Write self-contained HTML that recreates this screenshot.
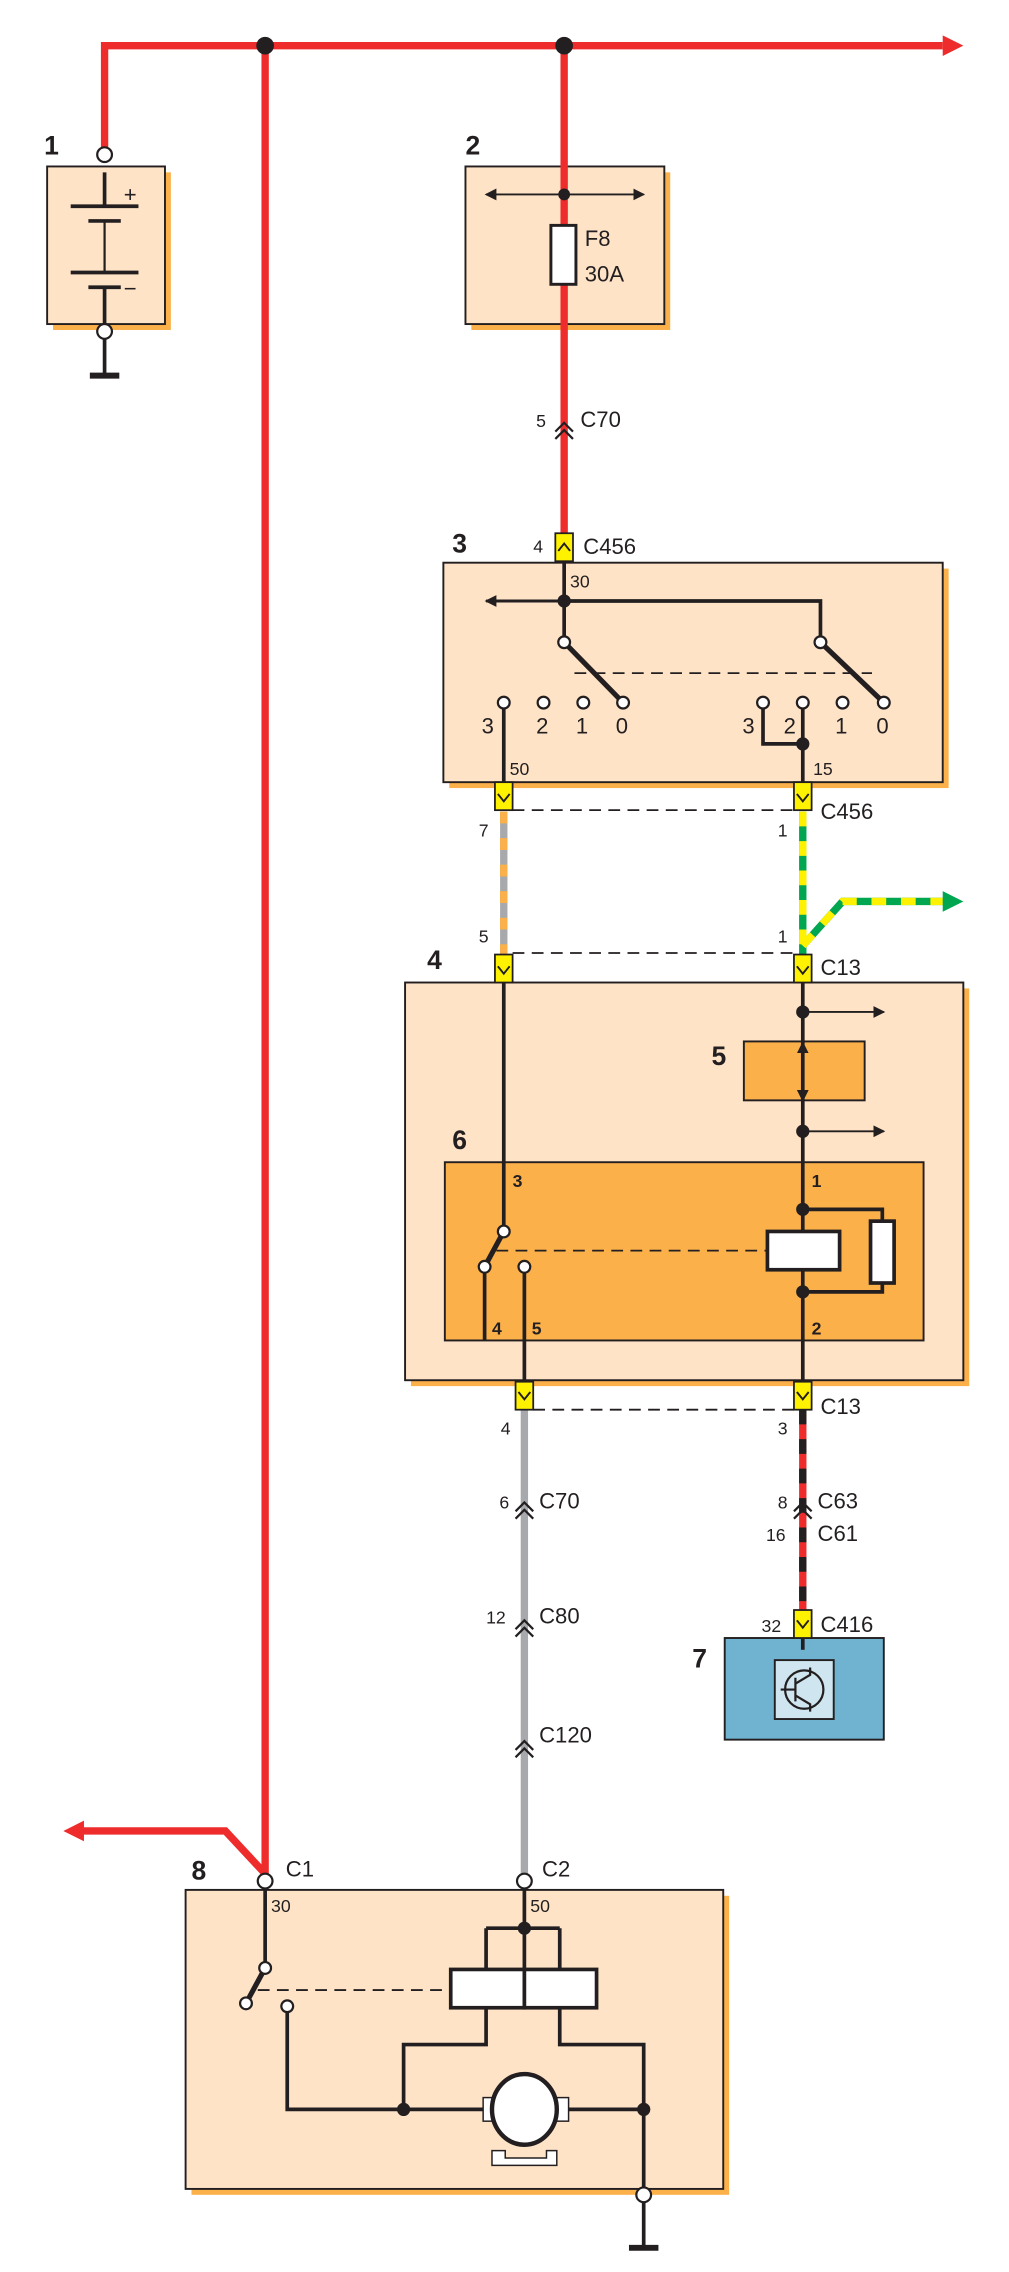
<!DOCTYPE html>
<html><head><meta charset="utf-8"><style>
html,body{margin:0;padding:0;background:#fff;}
svg{display:block;}
text{font-family:"Liberation Sans",sans-serif;fill:#231f20;}
</style></head><body>
<svg width="1009" height="2272" viewBox="0 0 685 1542.4" preserveAspectRatio="none" xmlns="http://www.w3.org/2000/svg">
<defs>
<marker id="ar" markerWidth="8" markerHeight="8" refX="7" refY="4" orient="auto" markerUnits="userSpaceOnUse"><path d="M0,0 L8,4 L0,8 z" fill="#231f20"/></marker>
</defs>
<g stroke="#231f20" stroke-width="1.3">
<!-- box shadows and boxes -->
<rect x="36" y="117" width="80" height="107" fill="#fbb04a" stroke="none"/>
<rect x="32" y="113" width="80" height="107" fill="#fee3c7"/>
<rect x="320" y="117" width="135" height="107" fill="#fbb04a" stroke="none"/>
<rect x="316" y="113" width="135" height="107" fill="#fee3c7"/>
<rect x="305" y="386" width="339" height="149" fill="#fbb04a" stroke="none"/>
<rect x="301" y="382" width="339" height="149" fill="#fee3c7"/>
<rect x="279" y="671" width="379" height="270" fill="#fbb04a" stroke="none"/>
<rect x="275" y="667" width="379" height="270" fill="#fee3c7"/>
<rect x="505" y="707" width="82" height="40" fill="#fbb04a"/>
<rect x="302" y="789" width="325" height="121" fill="#fbb04a"/>
<rect x="492" y="1112" width="108" height="69" fill="#70b3d0"/>
<rect x="526" y="1127" width="40" height="40" fill="#cfe6f0"/>
<rect x="130" y="1287" width="365" height="203" fill="#fbb04a" stroke="none"/>
<rect x="126" y="1283" width="365" height="203" fill="#fee3c7"/>
</g>
<!-- red wires -->
<g fill="none" stroke="#ee2c2c" stroke-width="5">
<path d="M71,105 V31 H640"/>
<path d="M180,31 V1272 L153,1243 H55"/>
<path d="M383,31 V362"/>
</g>
<path d="M640,24 L654,31 L640,38 z" fill="#ee2c2c"/>
<path d="M57,1236 L43,1243 L57,1250 z" fill="#ee2c2c"/>
<!-- grey/orange wire -->
<path d="M342,551 V648" stroke="#a7a9ac" stroke-width="5"/>
<path d="M342,551 V648" stroke="#fbb04a" stroke-width="5" stroke-dasharray="8,10"/>
<!-- green/yellow -->
<path d="M545,551 V648 M545,642 L572,612 H640" fill="none" stroke="#00a650" stroke-width="5"/>
<path d="M545,551 V648 M545,642 L572,612 H640" fill="none" stroke="#fff200" stroke-width="5" stroke-dasharray="10,10"/>
<path d="M640,605 L654,612 L640,619 z" fill="#00a650"/>
<!-- grey wire -->
<path d="M356,957 V1272" stroke="#a7a9ac" stroke-width="5"/>
<!-- red/black -->
<path d="M545,957 V1093" stroke="#ee2c2c" stroke-width="5"/>
<path d="M545,957 V1093" stroke="#231f20" stroke-width="5" stroke-dasharray="10,10"/>
<!-- chevrons -->
<g fill="none" stroke="#231f20" stroke-width="1.5">
<path d="M377,293 L383,287 L389,293 M377,298 L383,292 L389,298"/>
<path d="M350,1026 L356,1020 L362,1026 M350,1031 L356,1025 L362,1031"/>
<path d="M350,1106 L356,1100 L362,1106 M350,1111 L356,1105 L362,1111"/>
<path d="M350,1188 L356,1182 L362,1188 M350,1193 L356,1187 L362,1193"/>
<path d="M539,1026 L545,1020 L551,1026 M539,1031 L545,1025 L551,1031"/>
</g>
<!-- yellow connectors -->
<g fill="#fff200" stroke="#231f20" stroke-width="1.2">
<rect x="377" y="362" width="12" height="19"/>
<rect x="336" y="531" width="12" height="19"/>
<rect x="539" y="531" width="12" height="19"/>
<rect x="336" y="648" width="12" height="19"/>
<rect x="539" y="648" width="12" height="19"/>
<rect x="350" y="938" width="12" height="19"/>
<rect x="539" y="938" width="12" height="19"/>
<rect x="539" y="1093" width="12" height="19"/>
</g>
<g fill="none" stroke="#231f20" stroke-width="1.3">
<path d="M379,374 L383,369 L387,374"/>
<path d="M338,539 L342,544 L346,539 M541,539 L545,544 L549,539"/>
<path d="M338,656 L342,661 L346,656 M541,656 L545,661 L549,656"/>
<path d="M352,945 L356,950 L360,945 M541,945 L545,950 L549,945"/>
<path d="M541,1100 L545,1105 L549,1100"/>
</g>
<!-- dashed links -->
<g stroke="#231f20" stroke-width="1.2" stroke-dasharray="8,5" fill="none">
<path d="M348,550 H539"/><path d="M348,647 H539"/><path d="M362,957 H539"/>
<path d="M390,457 H592"/><path d="M337,849 H521"/><path d="M175,1351 H306"/>
</g>
<!-- black wiring -->
<g fill="none" stroke="#231f20" stroke-width="2.5">
<path d="M71,117 V140 M71,195 V220 M71,230 V255"/>
<path d="M383,381 V432 M383,408 H557 V432"/>
<path d="M342,481 V531 M518,481 V505 H545 M545,481 V531"/>
<path d="M342,667 V832 M329,864 V910 M356,864 V910 M356,910 V938"/>
<path d="M545,667 V836 M545,862 V938 M545,821 H599 V829 M545,877 H599 V871"/>
<path d="M545,1112 V1120"/>
<path d="M180,1282 V1332 M195,1366 V1432 H333 M378,1432 H437 V1486 M356,1282 V1337 M330,1309 H380 M330,1309 V1337 M380,1309 V1337 M330,1363 V1388 H274 V1432 M380,1363 V1388 H437 V1432"/>
</g>
<g stroke="#231f20" stroke-width="3.5" fill="none">
<path d="M383,436 L423,477 M557,436 L600,477"/>
<path d="M342,836 L329,860 M180,1336 L167,1360"/>
</g>
<g stroke="#231f20" stroke-width="1.3" fill="none">
<path d="M383,132 H330" marker-end="url(#ar)"/><path d="M383,132 H437" marker-end="url(#ar)"/>
<path d="M383,408 H330" marker-end="url(#ar)" stroke-width="2"/>
<path d="M545,687 H600" marker-end="url(#ar)"/><path d="M545,768 H600" marker-end="url(#ar)"/>
<path d="M545,727 V708" marker-end="url(#ar)"/><path d="M545,727 V747" marker-end="url(#ar)"/>
</g>
<!-- battery -->
<g stroke="#231f20" stroke-width="2.5">
<path d="M48,140 H94 M60,150 H82 M48,185 H94 M60,195 H82"/>
<path d="M71,150 V185" stroke-width="1.5"/>
<path d="M61,255 H81" stroke-width="4"/>
<path d="M427,1526 H447" stroke-width="4"/>
<path d="M437,1494 V1526"/>
</g>
<text x="84" y="137" font-size="15">+</text><text x="84" y="201" font-size="15">−</text>
<!-- fuse -->
<rect x="374" y="153" width="17" height="40" fill="#fff" stroke="#231f20" stroke-width="2"/>
<!-- relay coil/resistor -->
<rect x="521" y="836" width="49" height="26" fill="#fff" stroke="#231f20" stroke-width="2.5"/>
<rect x="591" y="829" width="16" height="42" fill="#fff" stroke="#231f20" stroke-width="2.5"/>
<rect x="306" y="1337" width="50" height="26" fill="#fff" stroke="#231f20" stroke-width="2.5"/>
<rect x="356" y="1337" width="49" height="26" fill="#fff" stroke="#231f20" stroke-width="2.5"/>
<!-- motor -->
<rect x="328" y="1424" width="58" height="16" fill="#fff" stroke="#231f20" stroke-width="1"/>
<ellipse cx="356" cy="1432" rx="22" ry="24" fill="#fff" stroke="#231f20" stroke-width="3"/>
<path d="M334,1460 V1470 H378 V1460 H371 V1465 H343 V1460 z" fill="#fff" stroke="#231f20" stroke-width="1"/>
<!-- transistor -->
<circle cx="546" cy="1147" r="13" fill="none" stroke="#231f20" stroke-width="1.5"/>
<path d="M530,1147 H540 M540,1139 V1155 M540,1143 L550,1137 V1132 M540,1151 L550,1157 V1162" fill="none" stroke="#231f20" stroke-width="1.5"/>
<!-- dots -->
<g fill="#231f20">
<circle cx="180" cy="31" r="6"/><circle cx="383" cy="31" r="6"/>
<circle cx="383" cy="132" r="4"/><circle cx="383" cy="408" r="4.5"/><circle cx="545" cy="505" r="4.5"/>
<circle cx="545" cy="687" r="4.5"/><circle cx="545" cy="768" r="4.5"/><circle cx="545" cy="821" r="4.5"/><circle cx="545" cy="877" r="4.5"/>
<circle cx="356" cy="1309" r="4.5"/><circle cx="274" cy="1432" r="4.5"/><circle cx="437" cy="1432" r="4.5"/>
</g>
<!-- open circles -->
<g fill="#fff" stroke="#231f20" stroke-width="1.5">
<circle cx="71" cy="105" r="5"/><circle cx="71" cy="225" r="5"/>
<circle cx="383" cy="436" r="4"/><circle cx="557" cy="436" r="4"/>
<circle cx="342" cy="477" r="4"/><circle cx="369" cy="477" r="4"/><circle cx="396" cy="477" r="4"/><circle cx="423" cy="477" r="4"/>
<circle cx="518" cy="477" r="4"/><circle cx="545" cy="477" r="4"/><circle cx="572" cy="477" r="4"/><circle cx="600" cy="477" r="4"/>
<circle cx="342" cy="836" r="4"/><circle cx="329" cy="860" r="4"/><circle cx="356" cy="860" r="4"/>
<circle cx="180" cy="1277" r="5"/><circle cx="356" cy="1277" r="5"/>
<circle cx="180" cy="1336" r="4"/><circle cx="167" cy="1360" r="4"/><circle cx="195" cy="1362" r="4"/>
<circle cx="437" cy="1490" r="5"/>
</g>
<!-- labels -->
<g font-weight="bold" font-size="18">
<text x="30" y="105">1</text><text x="316" y="105">2</text><text x="307" y="375">3</text>
<text x="290" y="658">4</text><text x="483" y="723">5</text><text x="307" y="780">6</text>
<text x="470" y="1132">7</text><text x="130" y="1276">8</text>
</g>
<g font-weight="bold" font-size="12">
<text x="348" y="806">3</text><text x="551" y="806">1</text>
<text x="334" y="906">4</text><text x="361" y="906">5</text><text x="551" y="906">2</text>
</g>
<g font-size="15">
<text x="397" y="167">F8</text><text x="397" y="191">30A</text>
<text x="394" y="290">C70</text><text x="396" y="376">C456</text>
<text x="557" y="556">C456</text><text x="557" y="662">C13</text><text x="557" y="960">C13</text>
<text x="366" y="1024">C70</text><text x="366" y="1102">C80</text><text x="366" y="1183">C120</text>
<text x="555" y="1024">C63</text><text x="555" y="1046">C61</text><text x="557" y="1108">C416</text>
<text x="194" y="1274">C1</text><text x="368" y="1274">C2</text>
<text x="327" y="498">3</text><text x="364" y="498">2</text><text x="391" y="498">1</text><text x="418" y="498">0</text>
<text x="504" y="498">3</text><text x="532" y="498">2</text><text x="567" y="498">1</text><text x="595" y="498">0</text>
</g>
<g font-size="12">
<text x="364" y="290">5</text><text x="362" y="375">4</text><text x="387" y="399">30</text>
<text x="346" y="526">50</text><text x="552" y="526">15</text>
<text x="325" y="568">7</text><text x="528" y="568">1</text><text x="325" y="640">5</text><text x="528" y="640">1</text>
<text x="340" y="974">4</text><text x="528" y="974">3</text>
<text x="339" y="1024">6</text><text x="330" y="1102">12</text>
<text x="528" y="1024">8</text><text x="520" y="1046">16</text><text x="517" y="1108">32</text>
<text x="184" y="1298">30</text><text x="360" y="1298">50</text>
</g>
</svg>
</body></html>
